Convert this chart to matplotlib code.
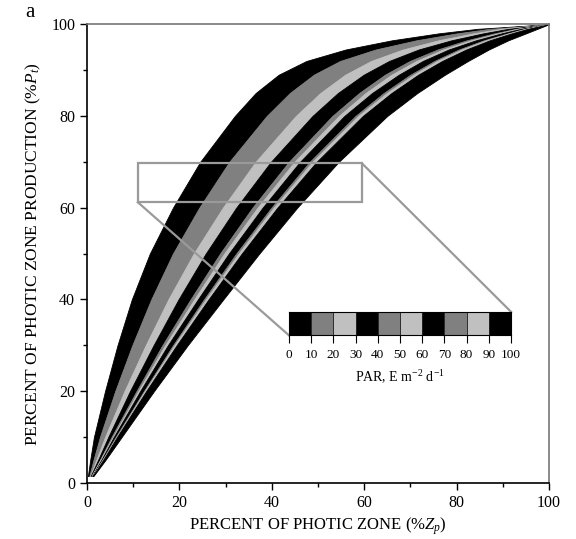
import numpy as np
import matplotlib
matplotlib.use("Agg")
import matplotlib.pyplot as plt
from matplotlib.patches import Rectangle

plt.rcParams['font.family'] = ['Liberation Serif', 'DejaVu Serif']
plt.rcParams['mathtext.fontset'] = 'custom'
plt.rcParams['mathtext.rm'] = 'Liberation Serif'
plt.rcParams['mathtext.it'] = 'Liberation Serif:italic'

# production levels (%Pt) where each PAR boundary curve is sampled
prod = [1.5, 5, 10, 20, 30, 40, 50, 60, 70, 80, 85, 89, 92, 94.5, 96.5, 98, 99, 100]

# depth (%Zp) of each PAR boundary curve at the levels above
par_0 = [0.2, 0.7, 1.5, 3.9, 6.6, 9.7, 13.6, 18.6, 24.5, 32.0, 36.5, 41.5, 47.5, 56.0, 66.0, 76.0, 84.5, 100]
par_10 = [0.5, 1.4, 2.8, 6.1, 9.8, 13.9, 18.6, 24.3, 30.8, 38.9, 43.9, 49.1, 54.8, 62.5, 71.3, 80.0, 87.2, 100]
par_20 = [0.7, 2.0, 3.9, 8.1, 12.7, 17.6, 23.1, 29.4, 36.5, 45.2, 50.5, 55.9, 61.5, 68.4, 76.1, 83.6, 89.7, 100]
par_30 = [0.8, 2.4, 4.6, 9.3, 14.4, 19.8, 25.7, 32.3, 39.8, 48.8, 54.3, 59.9, 65.4, 71.8, 78.9, 85.7, 91.2, 100]
par_40 = [1.0, 2.8, 5.3, 10.7, 16.3, 22.4, 28.8, 35.8, 43.7, 53.1, 58.9, 64.5, 69.9, 75.9, 82.2, 88.1, 92.8, 100]
par_50 = [1.0, 2.9, 5.6, 11.1, 16.9, 23.2, 29.7, 36.9, 44.9, 54.5, 60.3, 65.9, 71.3, 77.1, 83.1, 88.9, 93.3, 100]
par_60 = [1.1, 3.1, 5.8, 11.5, 17.5, 24.0, 30.7, 38.0, 46.1, 55.7, 61.7, 67.5, 72.7, 78.3, 84.2, 89.7, 93.9, 100]
par_70 = [1.2, 3.3, 6.2, 12.3, 18.6, 25.3, 32.3, 39.9, 48.2, 58.1, 64.2, 70.0, 75.2, 80.5, 85.9, 91.0, 94.8, 100]
par_80 = [1.2, 3.4, 6.4, 12.5, 18.9, 25.7, 32.8, 40.4, 48.8, 58.7, 64.9, 70.7, 75.8, 81.1, 86.4, 91.4, 95.0, 100]
par_90 = [1.2, 3.5, 6.5, 12.8, 19.4, 26.3, 33.5, 41.2, 49.7, 59.7, 65.9, 71.7, 76.9, 82.1, 87.2, 91.9, 95.4, 100]
par_100 = [1.4, 4.0, 7.5, 14.5, 21.8, 29.5, 37.3, 45.5, 54.5, 65.0, 71.5, 77.5, 82.5, 87.0, 91.2, 95.0, 97.5, 100]

curves = [par_0, par_10, par_20, par_30, par_40, par_50,
          par_60, par_70, par_80, par_90, par_100]
par_ticks = [0, 10, 20, 30, 40, 50, 60, 70, 80, 90, 100]
band_colors = ['#000000', '#808080', '#c0c0c0'] * 3 + ['#000000']

fig = plt.figure(figsize=(5.76, 5.39), dpi=100)
ax = fig.add_axes([0.151, 0.104, 0.802, 0.851])

# one filled band per 10 E m-2 d-1 of PAR
for i in range(10):
    ax.fill_betweenx(prod, curves[i], curves[i + 1],
                     color=band_colors[i], lw=0.6, edgecolor=band_colors[i])

ax.set_xlim(0, 100)
ax.set_ylim(0, 100)
ax.set_xticks(range(0, 101, 20))
ax.set_yticks(range(0, 101, 20))
ax.set_xticks(range(10, 100, 20), minor=True)
ax.set_yticks(range(10, 100, 20), minor=True)
ax.tick_params(which='major', length=5, width=1, labelsize=11.5, direction='out')
ax.tick_params(which='minor', length=3, width=1, direction='out')
for s in ['left', 'bottom']:
    ax.spines[s].set_linewidth(1.2)
for s in ['top', 'right']:
    ax.spines[s].set_color('#777777')
    ax.spines[s].set_linewidth(1.2)

ax.set_xlabel('PERCENT OF PHOTIC ZONE (%$Z_p$)', fontsize=12, labelpad=3)
ax.set_ylabel('PERCENT OF PHOTIC ZONE PRODUCTION (%$P_t$)', fontsize=12.5, labelpad=6)
fig.text(0.043, 0.968, 'a', fontsize=15)

# zoom box and connectors to the PAR scale
box_color = '#9a9a9a'
ax.add_patch(Rectangle((11, 61.2), 48.5, 8.5, fill=False,
                       edgecolor=box_color, lw=1.6, zorder=5))
bar_x0, bar_y0, bar_w, bar_h = 43.7, 32.2, 48.1, 5.1
ax.plot([11, bar_x0], [61.2, bar_y0], color=box_color, lw=1.6, zorder=5)
ax.plot([59.5, bar_x0 + bar_w], [69.7, bar_y0 + bar_h],
        color=box_color, lw=1.6, zorder=5)

# PAR scale
cax = ax.inset_axes([bar_x0, bar_y0, bar_w, bar_h], transform=ax.transData)
cax.set_zorder(6)
for i in range(10):
    cax.bar(par_ticks[i], 1, width=10, align='edge',
            color=band_colors[i], edgecolor='#222222', lw=0.6)
cax.set_xlim(0, 100)
cax.set_ylim(0, 1)
cax.set_yticks([])
cax.set_xticks(par_ticks)
cax.set_xticklabels([str(t) for t in par_ticks])
cax.tick_params(axis='x', length=6, width=0.8, labelsize=9.5, pad=4)
for s in cax.spines.values():
    s.set_linewidth(0.8)
cax.set_xlabel('PAR, E m$^{-2}$ d$^{-1}$', fontsize=10, labelpad=5)

fig.savefig('out.png', dpi=100)
